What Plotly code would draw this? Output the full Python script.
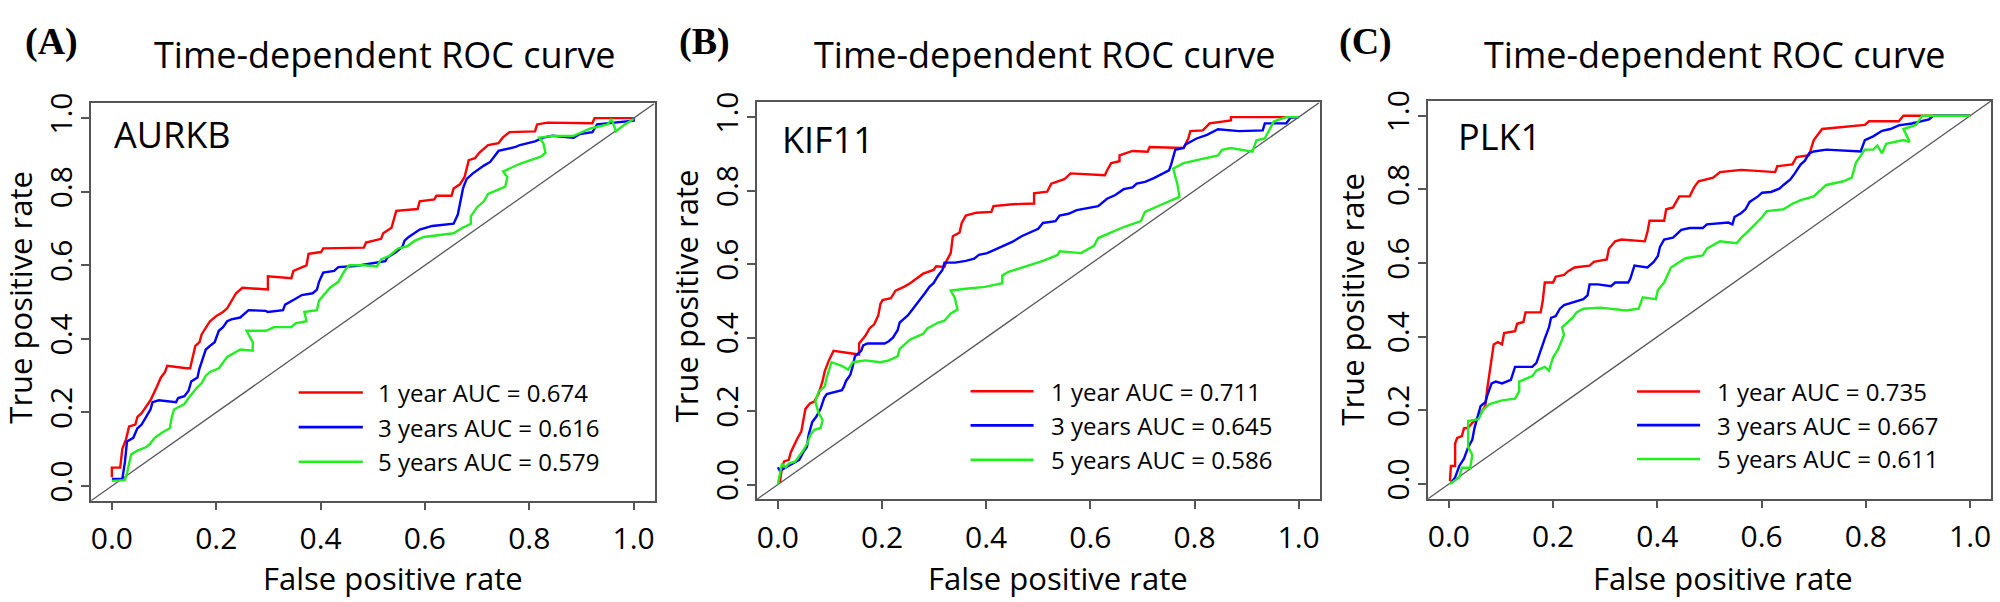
import plotly.graph_objects as go

# ---------------- data ----------------
panel_letters = ["(A)", "(B)", "(C)"]
genes = ["AURKB", "KIF11", "PLK1"]
series_names = ["1 year", "3 years", "5 years"]
series_colors = ["#FF0000", "#0000FF", "#22EE22"]
auc_A = [0.674, 0.616, 0.579]
auc_B = [0.711, 0.645, 0.586]
auc_C = [0.735, 0.667, 0.611]
tick_vals = [0.0, 0.2, 0.4, 0.6, 0.8, 1.0]
tick_text = ["0.0", "0.2", "0.4", "0.6", "0.8", "1.0"]

# Panel A (AURKB)
A1_fpr = [0, 0, 0.016, 0.020, 0.027, 0.033, 0.045, 0.049, 0.057, 0.066, 0.074, 0.086, 0.094, 0.102, 0.106, 0.143, 0.150, 0.160, 0.168, 0.172, 0.180, 0.188, 0.201, 0.213, 0.221, 0.229, 0.238, 0.250, 0.299, 0.299, 0.344, 0.348, 0.373, 0.377, 0.401, 0.405, 0.483, 0.487, 0.516, 0.520, 0.536, 0.545, 0.586, 0.590, 0.618, 0.622, 0.651, 0.655, 0.667, 0.676, 0.684, 0.696, 0.704, 0.721, 0.741, 0.749, 0.762, 0.811, 0.815, 0.835, 0.921, 0.925, 1.0]
A1_tpr = [0.024, 0.050, 0.050, 0.101, 0.126, 0.162, 0.167, 0.188, 0.198, 0.218, 0.233, 0.269, 0.295, 0.310, 0.327, 0.320, 0.320, 0.381, 0.391, 0.412, 0.432, 0.448, 0.463, 0.473, 0.483, 0.504, 0.524, 0.539, 0.534, 0.570, 0.565, 0.585, 0.600, 0.631, 0.636, 0.646, 0.648, 0.662, 0.672, 0.687, 0.702, 0.748, 0.753, 0.774, 0.779, 0.789, 0.789, 0.809, 0.820, 0.840, 0.886, 0.891, 0.906, 0.927, 0.932, 0.947, 0.962, 0.964, 0.983, 0.988, 0.986, 1.0, 1.0]
A3_fpr = [0, 0.020, 0.025, 0.029, 0.041, 0.049, 0.057, 0.066, 0.074, 0.078, 0.090, 0.123, 0.127, 0.139, 0.147, 0.152, 0.164, 0.168, 0.176, 0.180, 0.188, 0.197, 0.205, 0.213, 0.221, 0.229, 0.246, 0.254, 0.262, 0.295, 0.299, 0.328, 0.332, 0.352, 0.364, 0.385, 0.393, 0.397, 0.405, 0.426, 0.434, 0.467, 0.508, 0.524, 0.528, 0.545, 0.557, 0.561, 0.569, 0.590, 0.614, 0.655, 0.663, 0.667, 0.673, 0.680, 0.692, 0.713, 0.725, 0.733, 0.741, 0.774, 0.782, 0.811, 0.827, 0.844, 0.885, 0.897, 0.921, 0.930, 0.966, 1.0, 1.0]
A3_tpr = [0.019, 0.019, 0.065, 0.121, 0.131, 0.157, 0.167, 0.188, 0.208, 0.228, 0.233, 0.228, 0.239, 0.244, 0.259, 0.284, 0.295, 0.320, 0.351, 0.371, 0.381, 0.391, 0.422, 0.432, 0.448, 0.453, 0.458, 0.468, 0.478, 0.476, 0.473, 0.478, 0.493, 0.509, 0.519, 0.524, 0.534, 0.555, 0.580, 0.585, 0.595, 0.598, 0.606, 0.611, 0.621, 0.636, 0.651, 0.667, 0.677, 0.697, 0.707, 0.713, 0.738, 0.769, 0.809, 0.835, 0.850, 0.871, 0.881, 0.896, 0.911, 0.922, 0.927, 0.937, 0.947, 0.952, 0.947, 0.957, 0.962, 0.983, 0.988, 0.993, 1.0]
A5_fpr = [0, 0.025, 0.029, 0.037, 0.049, 0.066, 0.074, 0.082, 0.098, 0.111, 0.115, 0.119, 0.139, 0.147, 0.164, 0.172, 0.180, 0.188, 0.205, 0.213, 0.221, 0.246, 0.270, 0.270, 0.258, 0.295, 0.311, 0.344, 0.352, 0.373, 0.369, 0.393, 0.397, 0.418, 0.434, 0.446, 0.455, 0.483, 0.508, 0.516, 0.532, 0.549, 0.565, 0.581, 0.598, 0.655, 0.672, 0.688, 0.688, 0.700, 0.713, 0.721, 0.737, 0.754, 0.758, 0.750, 0.782, 0.803, 0.823, 0.831, 0.827, 0.819, 0.844, 0.885, 0.917, 0.950, 0.958, 0.966, 0.983, 1.0]
A5_tpr = [0.014, 0.016, 0.035, 0.086, 0.096, 0.106, 0.116, 0.131, 0.147, 0.157, 0.188, 0.208, 0.223, 0.239, 0.269, 0.279, 0.300, 0.310, 0.320, 0.335, 0.351, 0.371, 0.368, 0.391, 0.422, 0.422, 0.432, 0.432, 0.442, 0.448, 0.473, 0.478, 0.504, 0.539, 0.555, 0.585, 0.600, 0.600, 0.597, 0.616, 0.626, 0.646, 0.651, 0.667, 0.677, 0.687, 0.702, 0.713, 0.733, 0.758, 0.774, 0.794, 0.804, 0.814, 0.840, 0.855, 0.876, 0.886, 0.896, 0.906, 0.932, 0.947, 0.952, 0.952, 0.972, 0.983, 0.998, 0.964, 0.983, 0.998]

# Panel B (KIF11)
B1_fpr = [0.004, 0.008, 0.012, 0.021, 0.025, 0.033, 0.037, 0.045, 0.049, 0.053, 0.062, 0.070, 0.078, 0.086, 0.090, 0.098, 0.107, 0.156, 0.156, 0.168, 0.176, 0.185, 0.193, 0.197, 0.201, 0.217, 0.226, 0.242, 0.254, 0.263, 0.279, 0.299, 0.304, 0.320, 0.324, 0.332, 0.336, 0.349, 0.353, 0.361, 0.381, 0.410, 0.414, 0.451, 0.492, 0.492, 0.517, 0.525, 0.550, 0.562, 0.628, 0.632, 0.640, 0.656, 0.656, 0.681, 0.710, 0.714, 0.779, 0.788, 0.792, 0.816, 0.829, 0.870, 0.870, 1.0]
B1_tpr = [0.006, 0.047, 0.063, 0.067, 0.088, 0.113, 0.124, 0.144, 0.175, 0.206, 0.221, 0.226, 0.246, 0.282, 0.308, 0.338, 0.364, 0.354, 0.384, 0.405, 0.425, 0.436, 0.461, 0.492, 0.502, 0.507, 0.528, 0.538, 0.548, 0.558, 0.574, 0.584, 0.594, 0.592, 0.609, 0.630, 0.676, 0.686, 0.712, 0.732, 0.740, 0.742, 0.758, 0.763, 0.765, 0.793, 0.797, 0.819, 0.831, 0.847, 0.842, 0.855, 0.875, 0.880, 0.896, 0.908, 0.906, 0.919, 0.916, 0.942, 0.962, 0.964, 0.983, 0.991, 1.0, 1.0]
B3_fpr = [0, 0.004, 0.016, 0.033, 0.041, 0.049, 0.056, 0.059, 0.066, 0.074, 0.082, 0.089, 0.094, 0.123, 0.127, 0.131, 0.139, 0.144, 0.148, 0.160, 0.164, 0.172, 0.205, 0.213, 0.221, 0.230, 0.234, 0.242, 0.250, 0.258, 0.267, 0.275, 0.283, 0.291, 0.299, 0.308, 0.316, 0.320, 0.340, 0.361, 0.377, 0.386, 0.402, 0.418, 0.435, 0.451, 0.468, 0.484, 0.500, 0.509, 0.533, 0.541, 0.558, 0.574, 0.599, 0.615, 0.632, 0.648, 0.664, 0.681, 0.689, 0.705, 0.722, 0.738, 0.751, 0.755, 0.763, 0.779, 0.783, 0.804, 0.824, 0.845, 0.886, 0.931, 0.935, 0.976, 0.984, 1.0]
B3_tpr = [0.047, 0.037, 0.047, 0.062, 0.067, 0.088, 0.103, 0.134, 0.170, 0.185, 0.206, 0.236, 0.246, 0.257, 0.267, 0.282, 0.298, 0.323, 0.349, 0.364, 0.379, 0.384, 0.384, 0.390, 0.400, 0.420, 0.441, 0.451, 0.461, 0.476, 0.492, 0.507, 0.522, 0.538, 0.548, 0.569, 0.584, 0.604, 0.604, 0.609, 0.615, 0.625, 0.630, 0.640, 0.650, 0.661, 0.676, 0.686, 0.696, 0.712, 0.717, 0.732, 0.737, 0.747, 0.753, 0.758, 0.778, 0.788, 0.804, 0.809, 0.819, 0.824, 0.834, 0.845, 0.855, 0.870, 0.911, 0.916, 0.926, 0.942, 0.952, 0.967, 0.962, 0.964, 0.983, 0.983, 0.998, 1.0]
B5_fpr = [0, 0.004, 0.008, 0.015, 0.021, 0.033, 0.041, 0.049, 0.057, 0.062, 0.070, 0.082, 0.086, 0.078, 0.072, 0.078, 0.090, 0.094, 0.103, 0.123, 0.135, 0.144, 0.168, 0.197, 0.213, 0.230, 0.234, 0.254, 0.279, 0.287, 0.308, 0.320, 0.332, 0.345, 0.340, 0.332, 0.361, 0.398, 0.431, 0.431, 0.443, 0.476, 0.509, 0.537, 0.541, 0.582, 0.607, 0.615, 0.640, 0.664, 0.697, 0.705, 0.738, 0.771, 0.767, 0.759, 0.779, 0.812, 0.845, 0.853, 0.870, 0.911, 0.919, 0.935, 0.952, 0.976, 1.0]
B5_tpr = [0, 0.032, 0.057, 0.047, 0.057, 0.062, 0.078, 0.093, 0.113, 0.134, 0.149, 0.154, 0.175, 0.195, 0.226, 0.252, 0.267, 0.292, 0.333, 0.323, 0.313, 0.333, 0.338, 0.333, 0.338, 0.349, 0.369, 0.395, 0.410, 0.425, 0.441, 0.446, 0.466, 0.476, 0.507, 0.528, 0.533, 0.538, 0.548, 0.569, 0.579, 0.594, 0.609, 0.625, 0.635, 0.630, 0.650, 0.671, 0.686, 0.701, 0.717, 0.742, 0.763, 0.783, 0.819, 0.860, 0.875, 0.885, 0.896, 0.911, 0.916, 0.906, 0.937, 0.942, 0.988, 1.0, 1.0]

# Panel C (PLK1)
C1_fpr = [0.002, 0.004, 0.012, 0.012, 0.016, 0.025, 0.029, 0.037, 0.045, 0.057, 0.061, 0.070, 0.074, 0.078, 0.082, 0.086, 0.094, 0.102, 0.106, 0.127, 0.131, 0.143, 0.147, 0.176, 0.180, 0.184, 0.200, 0.205, 0.221, 0.229, 0.241, 0.270, 0.278, 0.303, 0.307, 0.319, 0.331, 0.376, 0.381, 0.385, 0.413, 0.417, 0.430, 0.438, 0.442, 0.462, 0.471, 0.479, 0.507, 0.520, 0.561, 0.626, 0.630, 0.659, 0.667, 0.691, 0.700, 0.716, 0.757, 0.798, 0.806, 0.863, 0.872, 1.0]
C1_tpr = [0.008, 0.049, 0.049, 0.110, 0.125, 0.130, 0.151, 0.153, 0.166, 0.181, 0.191, 0.212, 0.262, 0.303, 0.334, 0.379, 0.385, 0.379, 0.410, 0.415, 0.435, 0.440, 0.466, 0.466, 0.496, 0.547, 0.547, 0.563, 0.568, 0.578, 0.588, 0.593, 0.603, 0.610, 0.639, 0.659, 0.664, 0.659, 0.685, 0.715, 0.715, 0.746, 0.751, 0.771, 0.781, 0.781, 0.807, 0.822, 0.832, 0.847, 0.853, 0.847, 0.863, 0.868, 0.888, 0.893, 0.934, 0.964, 0.969, 0.975, 0.985, 0.985, 1.0, 1.0]
C3_fpr = [0.004, 0.012, 0.020, 0.029, 0.037, 0.045, 0.049, 0.053, 0.057, 0.061, 0.070, 0.074, 0.082, 0.090, 0.102, 0.119, 0.127, 0.160, 0.168, 0.176, 0.184, 0.192, 0.196, 0.205, 0.213, 0.221, 0.245, 0.258, 0.266, 0.270, 0.286, 0.311, 0.319, 0.344, 0.348, 0.356, 0.381, 0.393, 0.401, 0.405, 0.413, 0.430, 0.446, 0.462, 0.487, 0.495, 0.536, 0.544, 0.548, 0.561, 0.569, 0.577, 0.593, 0.601, 0.618, 0.634, 0.642, 0.655, 0.663, 0.675, 0.683, 0.691, 0.700, 0.724, 0.790, 0.794, 0.798, 0.814, 0.831, 0.847, 0.863, 0.888, 0.921, 0.929, 1.0]
C3_tpr = [0.003, 0.018, 0.049, 0.069, 0.100, 0.120, 0.151, 0.171, 0.196, 0.212, 0.222, 0.242, 0.273, 0.278, 0.273, 0.283, 0.318, 0.318, 0.329, 0.364, 0.395, 0.425, 0.451, 0.456, 0.476, 0.486, 0.496, 0.502, 0.512, 0.542, 0.542, 0.537, 0.547, 0.547, 0.557, 0.593, 0.588, 0.603, 0.619, 0.644, 0.664, 0.669, 0.690, 0.695, 0.695, 0.705, 0.710, 0.705, 0.725, 0.736, 0.746, 0.766, 0.781, 0.791, 0.793, 0.802, 0.812, 0.827, 0.842, 0.868, 0.878, 0.898, 0.903, 0.908, 0.903, 0.919, 0.934, 0.944, 0.959, 0.964, 0.974, 0.979, 0.990, 1.0, 1.0]
C5_fpr = [0.002, 0.020, 0.025, 0.041, 0.045, 0.037, 0.037, 0.057, 0.065, 0.078, 0.102, 0.127, 0.135, 0.135, 0.160, 0.168, 0.184, 0.192, 0.200, 0.209, 0.221, 0.217, 0.237, 0.245, 0.258, 0.291, 0.340, 0.364, 0.372, 0.397, 0.401, 0.413, 0.426, 0.438, 0.454, 0.487, 0.495, 0.520, 0.552, 0.561, 0.577, 0.601, 0.610, 0.642, 0.659, 0.675, 0.700, 0.716, 0.724, 0.757, 0.773, 0.781, 0.798, 0.814, 0.822, 0.831, 0.839, 0.872, 0.884, 0.872, 0.896, 0.908, 1.0]
C5_tpr = [0, 0.018, 0.044, 0.044, 0.079, 0.100, 0.171, 0.176, 0.201, 0.217, 0.227, 0.232, 0.252, 0.278, 0.293, 0.308, 0.318, 0.308, 0.344, 0.364, 0.405, 0.425, 0.451, 0.466, 0.476, 0.479, 0.471, 0.476, 0.507, 0.502, 0.527, 0.547, 0.588, 0.598, 0.613, 0.621, 0.639, 0.659, 0.654, 0.669, 0.690, 0.725, 0.741, 0.746, 0.761, 0.771, 0.781, 0.802, 0.812, 0.822, 0.832, 0.873, 0.908, 0.908, 0.919, 0.898, 0.924, 0.934, 0.929, 0.964, 0.975, 1.0, 1.0]

panels = [
    dict(fpr=[A1_fpr, A3_fpr, A5_fpr], tpr=[A1_tpr, A3_tpr, A5_tpr], auc=auc_A),
    dict(fpr=[B1_fpr, B3_fpr, B5_fpr], tpr=[B1_tpr, B3_tpr, B5_tpr], auc=auc_B),
    dict(fpr=[C1_fpr, C3_fpr, C5_fpr], tpr=[C1_tpr, C3_tpr, C5_tpr], auc=auc_C),
]

# ---------------- layout geometry (pixels in a 2000x602 canvas) ----------------
W, H = 2000, 602
boxes = [  # left, right, top, bottom
    (91, 654.5, 94.5, 500.5),
    (757, 1319.5, 93.5, 499),
    (1428, 1991, 92, 498.5),
]
title_cx = [385, 1045, 1715]
xtitle_cx = [393, 1058, 1723]
ytitle_pos = [(20, 293), (686, 291.5), (1352, 295)]
letter_pos = [(51.5, 31), (704, 31), (1365, 31)]
gene_pos = [(0.0, 0.955), (0.005, 0.94), (0.013, 0.943)]
leg_x = [(0.358, 0.481, 0.509), (0.370, 0.491, 0.522), (0.361, 0.482, 0.513)]
leg_y = [(0.254, 0.160, 0.066), (0.254, 0.161, 0.067), (0.251, 0.160, 0.068)]

FONT = "Open Sans"
AX = "#555555"

fig = go.Figure()
annotations = []
shapes = []

def px_x(p):
    return p / W

def px_y(p):
    return 1 - p / H

for i, pnl in enumerate(panels):
    n = "" if i == 0 else str(i + 1)
    xa, ya = "x" + n, "y" + n
    # diagonal reference line across the full plotting region
    fig.add_trace(go.Scatter(x=[-0.04, 1.04], y=[-0.04, 1.04], mode="lines",
                             line=dict(color=AX, width=1.3), xaxis=xa, yaxis=ya,
                             showlegend=False, hoverinfo="skip"))
    for k in range(3):
        fig.add_trace(go.Scatter(x=pnl["fpr"][k], y=pnl["tpr"][k], mode="lines",
                                 line=dict(color=series_colors[k], width=2.4),
                                 name=f"{series_names[k]} AUC = {pnl['auc'][k]:.3f}",
                                 xaxis=xa, yaxis=ya, showlegend=False))
    l, r, t, b = boxes[i]
    axis_common = dict(range=[-0.04, 1.04], tickvals=tick_vals, ticktext=tick_text,
                       ticks="outside", ticklen=8, tickwidth=1.5, tickcolor=AX,
                       showline=True, linecolor=AX, linewidth=1.5, mirror=True,
                       showgrid=False, zeroline=False,
                       tickfont=dict(family=FONT, size=30, color="black"))
    fig.update_layout(**{
        "xaxis" + n: dict(domain=[px_x(l), px_x(r)], anchor=ya, ticklabelstandoff=3, **axis_common),
        "yaxis" + n: dict(domain=[px_y(b), px_y(t)], anchor=xa, tickangle=-90, ticklabelstandoff=-3, **axis_common),
    })
    # legend (drawn inside the plot, R style)
    for k in range(3):
        shapes.append(dict(type="line", xref=xa, yref=ya, x0=leg_x[i][0], x1=leg_x[i][1],
                           y0=leg_y[i][k], y1=leg_y[i][k],
                           line=dict(color=series_colors[k], width=2.6)))
        annotations.append(dict(xref=xa, yref=ya, x=leg_x[i][2], y=leg_y[i][k],
                                text=f"{series_names[k]} AUC = {pnl['auc'][k]:.3f}",
                                showarrow=False, xanchor="left", yanchor="middle", borderpad=0,
                                font=dict(family=FONT, size=24, color="black")))
    # gene label
    annotations.append(dict(xref=xa, yref=ya, x=gene_pos[i][0], y=gene_pos[i][1], text=genes[i],
                            showarrow=False, xanchor="left", yanchor="middle",
                            font=dict(family=FONT, size=36, color="black")))
    # title
    annotations.append(dict(xref="paper", yref="paper", x=px_x(title_cx[i]), y=px_y(44),
                            text="Time-dependent ROC curve", showarrow=False,
                            xanchor="center", yanchor="middle",
                            font=dict(family=FONT, size=36, color="black")))
    # axis titles
    annotations.append(dict(xref="paper", yref="paper", x=px_x(xtitle_cx[i]), y=px_y(580),
                            text="False positive rate", showarrow=False,
                            xanchor="center", yanchor="middle",
                            font=dict(family=FONT, size=31, color="black")))
    annotations.append(dict(xref="paper", yref="paper", x=px_x(ytitle_pos[i][0]), y=px_y(ytitle_pos[i][1]),
                            text="True positive rate", showarrow=False, textangle=-90,
                            xanchor="center", yanchor="middle",
                            font=dict(family=FONT, size=31, color="black")))
    # panel letter
    annotations.append(dict(xref="paper", yref="paper", x=px_x(letter_pos[i][0]), y=px_y(letter_pos[i][1]),
                            text="<b>" + panel_letters[i] + "</b>", showarrow=False,
                            xanchor="center", yanchor="middle",
                            font=dict(family="Liberation Serif", size=38, color="black")))

fig.update_layout(width=W, height=H, margin=dict(l=0, r=0, t=0, b=0),
                  paper_bgcolor="white", plot_bgcolor="white",
                  showlegend=False, annotations=annotations, shapes=shapes)

fig.write_html("out.html", config={"displayModeBar": False},
               post_script="document.body.style.margin='0';")
